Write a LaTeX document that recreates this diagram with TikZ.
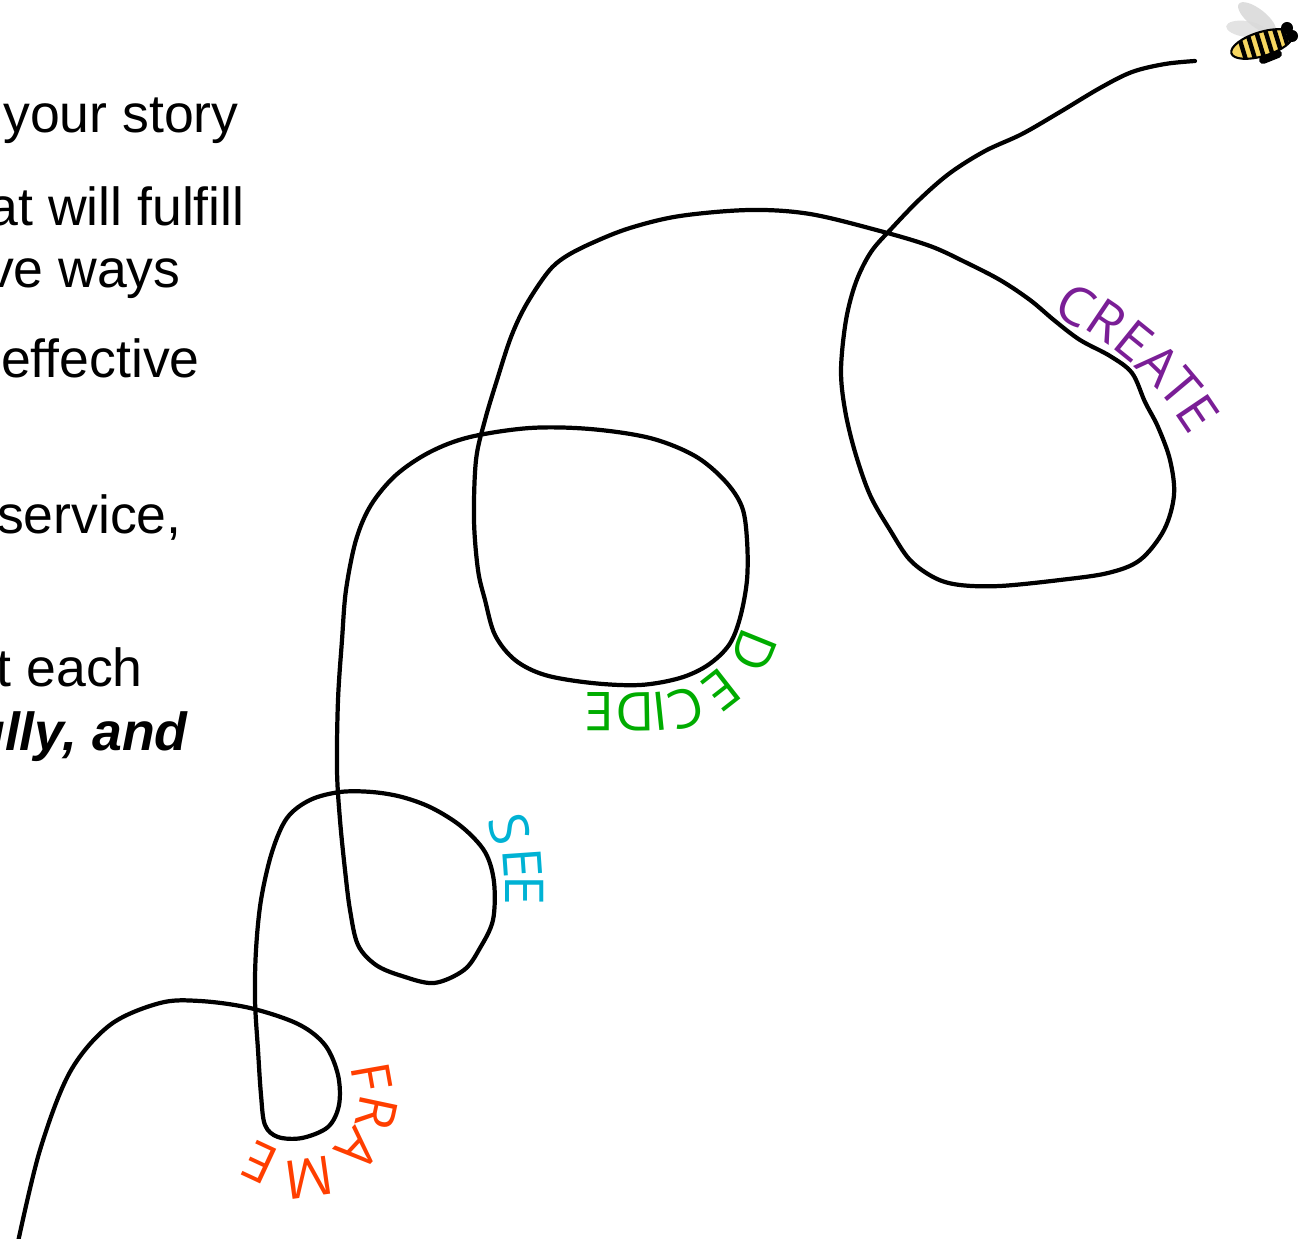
\documentclass[tikz,border=0pt]{standalone}
\usepackage{fontspec}
\setmainfont{Liberation Sans}
\newfontfamily\labelfont{Open Sans}
\definecolor{createcol}{RGB}{122,30,150}
\definecolor{decidecol}{RGB}{0,172,0}
\definecolor{seecol}{RGB}{0,178,212}
\definecolor{framecol}{RGB}{255,62,0}
\definecolor{beeyellow}{RGB}{246,214,96}
\begin{document}
\begin{tikzpicture}[x=0.02cm,y=-0.02cm,
  bodytext/.style={anchor=base east,inner sep=0pt,font=\fontsize{30.5}{36}\selectfont},
  letter/.style={inner sep=0pt,font=\labelfont\fontsize{30.5}{36}\selectfont,text=#1},
  trail/.style={line width=2.4pt,line join=round,line cap=round}]
\useasboundingbox (0,0) rectangle (1310,1239);
\clip (0,0) rectangle (1310,1239);

% text running in from the left edge
\node[bodytext] (t1) at (239,133) {your story};
\node[bodytext] (t2) at (245,226) {at will fulfill};
\node[bodytext] (t3) at (181,288) {ve ways};
\node[bodytext] (t4) at (200,378) {effective};
\node[bodytext] (t5) at (182,533) {service,};
\node[bodytext] (t6) at (143,686) {t each};
\node[bodytext,font=\fontsize{30.5}{36}\selectfont\bfseries\itshape] (t7) at (188,750) {ully, and};

% the flight path of the bee
\draw[trail] plot[smooth,tension=0.55] coordinates {
 (18,1242) (40,1150) (70,1072) (110,1025) (160,1003) (200,1001) (250,1008)
 (298,1024) (325,1045) (338,1075) (339,1105) (328,1127) (302,1138) (278,1137)
 (265,1125) (261,1095) (258,1050) (255,1000) (256,950) (261,900) (272,852)
 (287,818) (310,800) (340,792) (372,792) (402,797) (432,808) (462,827)
 (485,852) (494,882) (493,920) (480,948) (464,970) (434,983) (402,976)
 (376,965) (358,945) (350,910) (345,870) (340,820) (337,770) (338,700)
 (342,640) (346,590) (356,540) (371,505) (396,475) (430,452) (470,437)
 (530,428) (590,429) (650,438) (695,456) (725,481) (742,507) (747,540)
 (747,580) (740,618) (729,645) (708,665) (680,678) (640,685) (592,683)
 (545,675) (515,660) (495,635) (485,600) (478,570) (474,520) (476,460)
 (485,420) (497,380) (511,337) (526,305) (548,272) (565,257) (592,243)
 (630,228) (680,216) (750,210) (810,214) (880,231) (930,246) (965,262)
 (1000,280) (1030,300) (1055,321) (1080,340) (1110,356) (1132,373)
 (1145,402) (1158,427) (1170,460) (1174,495) (1164,530) (1140,560)
 (1108,573) (1060,580) (1000,586) (960,585) (935,578) (910,560) (890,530)
 (870,495) (855,452) (845,410) (841,370) (846,320) (856,282) (871,252)
 (892,228) (920,199) (950,173) (985,151) (1022,134) (1060,112) (1100,88)
 (1132,72) (1165,64) (1195,61)};

% FRAME
\node[letter=framecol,rotate=-80]  (f1) at (372,1077) {F};
\node[letter=framecol,rotate=-102] (f2) at (377,1113) {R};
\node[letter=framecol,rotate=-133] (f3) at (358,1150) {A};
\node[letter=framecol,rotate=-172] (f4) at (309,1178) {M};
\node[letter=framecol,rotate=-205] (f5) at (260,1163) {E};

% SEE
\node[letter=seecol,rotate=-76] (s1) at (510,829) {S};
\node[letter=seecol,rotate=-86] (s2) at (523,863) {E};
\node[letter=seecol,rotate=-90] (s3) at (525,890) {E};

% DECIDE
\node[letter=decidecol,rotate=-112] (d1) at (754,651) {D};
\node[letter=decidecol,rotate=-142] (d2) at (722,690) {E};
\node[letter=decidecol,rotate=-162] (d3) at (686,708) {C};
\node[letter=decidecol,rotate=-174] (d4) at (660,711) {I};
\node[letter=decidecol,rotate=-179] (d5) at (635,712) {D};
\node[letter=decidecol,rotate=-180] (d6) at (600,712) {E};

% CREATE
\node[letter=createcol,rotate=-30] (c1) at (1076,305) {C};
\node[letter=createcol,rotate=-34] (c2) at (1107,321) {R};
\node[letter=createcol,rotate=-39] (c3) at (1134,341) {E};
\node[letter=createcol,rotate=-44] (c4) at (1159,364) {A};
\node[letter=createcol,rotate=-50] (c5) at (1181,388) {T};
\node[letter=createcol,rotate=-56] (c6) at (1198,413) {E};

% the bee
\fill[gray!35,opacity=0.75] (1257,18) ellipse [x radius=23,y radius=9,rotate=-38];
\fill[gray!30,opacity=0.75] (1246,29) ellipse [x radius=20,y radius=8,rotate=-8];
\draw[black,line width=4.5pt,line cap=round] (1263,60) -- (1278,54);
\begin{scope}[shift={(1262,44)},rotate=17]
  \fill[beeyellow] (0,0) ellipse [x radius=32,y radius=12];
  \begin{scope}
    \clip (0,0) ellipse [x radius=32,y radius=12];
    \foreach \s in {-20,-11,-2,7,16,24}
      \fill[black] (\s-2.2,-14) rectangle (\s+2.2,14);
  \end{scope}
  \draw[black,line width=1.2pt] (0,0) ellipse [x radius=32,y radius=12];
\end{scope}
\fill[black] (1287,28) circle [radius=6];
\fill[black] (1292,36) circle [radius=6];
\end{tikzpicture}
\end{document}
